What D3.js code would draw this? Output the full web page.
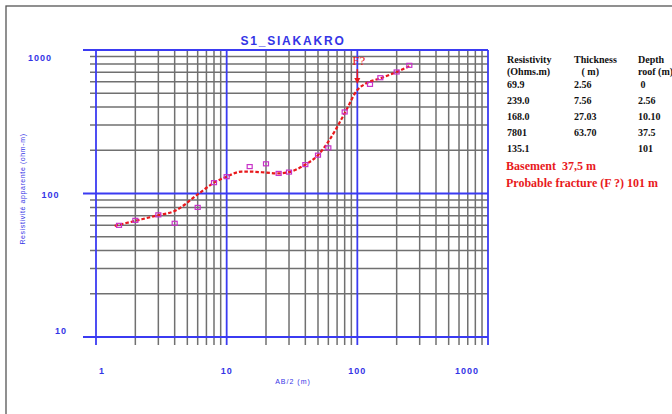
<!DOCTYPE html>
<html><head><meta charset="utf-8">
<script src="https://cdn.jsdelivr.net/npm/d3@7"></script>
<style>
html,body{margin:0;padding:0;background:#fff;}
svg{display:block;}
</style></head>
<body>
<script>
// ---------- data ----------
const title = "S1_SIAKAKRO";
const xTicks = [1, 10, 100, 1000];
const yTicks = [10, 100, 1000];
const xLabel = "AB/2 (m)";
const yLabel = "Resistivité apparente (ohm-m)";
// observed apparent resistivity
const obsAB  = [1.5, 2, 3, 4, 6, 8, 10, 15, 20, 25, 30, 40, 50, 60, 80, 125, 150, 200, 250];
const obsRho = [60, 65, 71, 62, 80, 119, 131, 154, 161, 138, 141, 159, 185, 208, 370, 576, 641, 703, 782];
// model (fitted) curve
const modelAB  = [1.39, 2, 3, 4, 6, 8, 10, 13, 15, 20, 25, 30, 40, 50, 60, 80, 100, 117, 150, 200, 250];
const modelRho = [59.5, 64.5, 70.6, 75.5, 98.5, 119, 131, 142, 142, 140, 138, 141, 159, 185, 230, 362, 526, 586, 635, 703, 770];
// layer table
const tableHeaders = [["Resistivity", "(Ohms.m)"], ["Thickness", "   ( m)"], ["Depth", "roof (m)"]];
const resistivity = ["69.9", "239.0", "168.0", "7801", "135.1"];
const thickness   = ["2.56", "7.56", "27.03", "63.70", ""];
const depthRoof   = [" 0", "2.56", "10.10", "37.5", "101"];
const notes = ["Basement  37,5 m", "Probable fracture (F ?) 101 m"];
const fractureAB = 100;
const fractureLabel = "F?";

// ---------- layout ----------
const W = 672, H = 414;
const blue = "#3b3bf2", txtBlue = "#3434e6", gray = "#707070", red = "#e8191c", mag = "#c832c8";
const svg = d3.select("body").append("svg").attr("width", W).attr("height", H);

svg.append("rect").attr("x", 6).attr("y", 6).attr("width", 700).attr("height", 500)
  .attr("fill", "#fff").attr("stroke", "#555").attr("stroke-width", 1.3);

const x = d3.scaleLog().domain([1, 1000]).range([96, 488]);
const y = d3.scaleLog().domain([10, 1000]).range([337, 50]);

// minor values
const minorX = [], minorY = [];
[1, 10, 100].forEach(d => { for (let k = 2; k <= 9; k++) minorX.push(d * k); });
[10, 100].forEach(d => { for (let k = 2; k <= 9; k++) minorY.push(d * k); });

const g = svg.append("g");
// minor grid
g.selectAll(".mx").data(minorX).join("line")
  .attr("x1", d => x(d)).attr("x2", d => x(d)).attr("y1", y(1000)).attr("y2", 345)
  .attr("stroke", gray).attr("stroke-width", 1.5);
g.selectAll(".my").data(minorY).join("line")
  .attr("x1", 90).attr("x2", x(1000)).attr("y1", d => y(d)).attr("y2", d => y(d))
  .attr("stroke", gray).attr("stroke-width", 1.5);
// major grid
g.selectAll(".Mx").data(xTicks).join("line")
  .attr("x1", d => x(d)).attr("x2", d => x(d)).attr("y1", y(1000)).attr("y2", 345)
  .attr("stroke", blue).attr("stroke-width", 1.8);
g.selectAll(".My").data(yTicks).join("line")
  .attr("x1", 83).attr("x2", x(1000)).attr("y1", d => y(d)).attr("y2", d => y(d))
  .attr("stroke", blue).attr("stroke-width", 1.8);

// tick labels
const yDy = {1000: 11, 100: 4, 10: -3};
svg.selectAll(".yl").data(yTicks).join("text")
  .attr("x", d => 82 - 7.5 * String(d).length).attr("y", d => y(d) + yDy[d])
  .attr("text-anchor", "end").attr("font-family", "Liberation Sans, Arial, sans-serif")
  .attr("font-size", 9).attr("font-weight", "bold").attr("letter-spacing", 1)
  .attr("fill", txtBlue).text(d => d);
svg.selectAll(".xl").data(xTicks).join("text")
  .attr("x", (d, i) => i === 0 ? x(d) + 6 : (i === xTicks.length - 1 ? x(d) - 21 : x(d)))
  .attr("y", 374).attr("text-anchor", "middle")
  .attr("font-family", "Liberation Sans, Arial, sans-serif")
  .attr("font-size", 9).attr("font-weight", "bold").attr("letter-spacing", 1)
  .attr("fill", txtBlue).text(d => d);

svg.append("text").attr("x", 293).attr("y", 384).attr("text-anchor", "middle")
  .attr("font-family", "Liberation Sans, Arial, sans-serif").attr("font-size", 7)
  .attr("letter-spacing", 1).attr("fill", txtBlue).text(xLabel);
svg.append("text").attr("transform", "translate(25,189) rotate(-90)").attr("text-anchor", "middle")
  .attr("font-family", "Liberation Sans, Arial, sans-serif").attr("font-size", 7)
  .attr("letter-spacing", 0.6).attr("fill", txtBlue).text(yLabel);

svg.append("text").attr("x", 293).attr("y", 45).attr("text-anchor", "middle")
  .attr("font-family", "Liberation Sans, Arial, sans-serif").attr("font-size", 12)
  .attr("font-weight", "bold").attr("letter-spacing", 1.8).attr("fill", txtBlue).text(title);

// model curve
const modelPts = modelAB.map((d, i) => [d, modelRho[i]]);
const line = d3.line().x(d => x(d[0])).y(d => y(d[1])).curve(d3.curveMonotoneX);
svg.append("path").attr("d", line(modelPts)).attr("fill", "none")
  .attr("stroke", red).attr("stroke-width", 2.2).attr("stroke-dasharray", "3.5,2");

// observed points
const obsPts = obsAB.map((d, i) => [d, obsRho[i]]);
svg.selectAll(".pt").data(obsPts).join("rect")
  .attr("x", d => x(d[0]) - 2.5).attr("y", d => y(d[1]) - 2)
  .attr("width", 5).attr("height", 4)
  .attr("fill", "none").attr("stroke", mag).attr("stroke-width", 1.2);

// fracture marker
const fi = modelAB.indexOf(fractureAB);
const tipY = y(modelRho[fi]) - 6;
const fx = x(fractureAB);
svg.append("line").attr("x1", fx).attr("x2", fx).attr("y1", tipY - 15).attr("y2", tipY - 5)
  .attr("stroke", red).attr("stroke-width", 1.5);
svg.append("path").attr("d", `M${fx - 3},${tipY - 6} L${fx + 3},${tipY - 6} L${fx},${tipY} Z`).attr("fill", red);
svg.append("text").attr("x", fx - 5).attr("y", tipY - 19)
  .attr("font-family", "Liberation Serif, Times New Roman, serif").attr("font-size", 13)
  .attr("fill", red).text(fractureLabel);

// table
const colX = [507, 574, 638];
const tf = "Liberation Serif, Times New Roman, serif";
tableHeaders.forEach((h, c) => {
  h.forEach((t, r) => {
    svg.append("text").attr("x", colX[c]).attr("y", 62.5 + r * 12.5)
      .attr("font-family", tf).attr("font-size", 10).attr("font-weight", "bold")
      .style("white-space", "pre").attr("fill", "#111").text(t);
  });
});
[resistivity, thickness, depthRoof].forEach((col, c) => {
  svg.selectAll(".c" + c).data(col).join("text")
    .attr("x", colX[c]).attr("y", (d, i) => 87.5 + i * 16.2)
    .attr("font-family", tf).attr("font-size", 10).attr("font-weight", "bold")
    .style("white-space", "pre").attr("fill", "#111").text(d => d);
});
svg.selectAll(".note").data(notes).join("text")
  .attr("x", 506).attr("y", (d, i) => 170 + i * 16.5)
  .attr("font-family", tf).attr("font-size", 12).attr("font-weight", "bold")
  .style("white-space", "pre").attr("fill", red).text(d => d);
</script>
</body></html>
